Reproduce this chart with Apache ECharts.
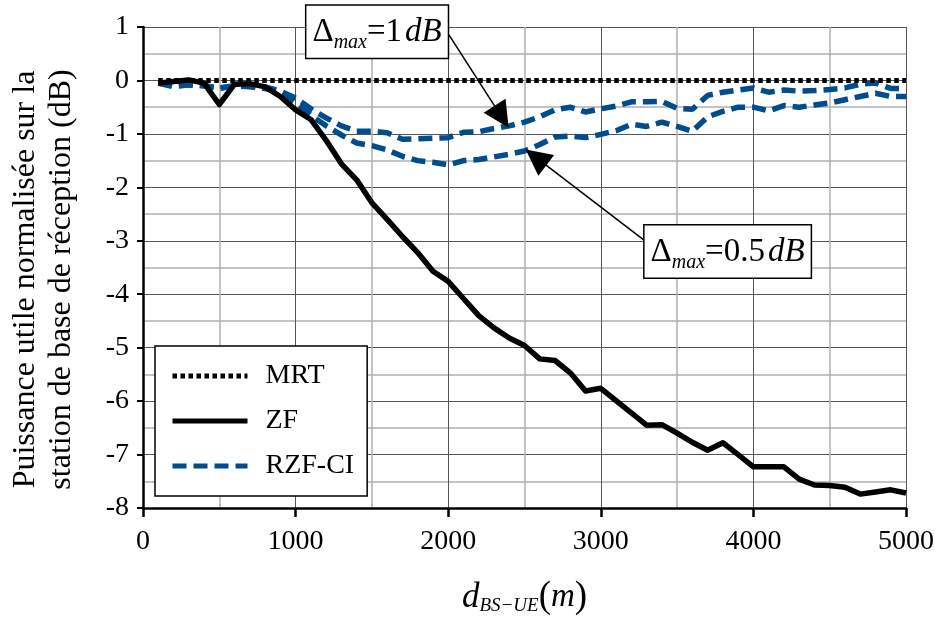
<!DOCTYPE html>
<html>
<head>
<meta charset="utf-8">
<script src="https://cdn.jsdelivr.net/npm/echarts@6/dist/echarts.min.js"></script>
<style>
html,body{margin:0;padding:0;background:#fff;}
#chart{width:937px;height:623px;}
</style>
</head>
<body>
<div id="chart"></div>
<script>
// distance BS-UE (m)
const distances = [100,200,300,400,500,600,700,800,900,1000,
  1100,1200,1300,1400,1500,1600,1700,1800,1900,2000,
  2100,2200,2300,2400,2500,2600,2700,2800,2900,3000,
  3100,3200,3300,3400,3500,3600,3700,3800,3900,4000,
  4100,4200,4300,4400,4500,4600,4700,4800,4900,5000];

const mrt = [0,0,0,0,0,0,0,0,0,0, 0,0,0,0,0,0,0,0,0,0,
  0,0,0,0,0,0,0,0,0,0, 0,0,0,0,0,0,0,0,0,0, 0,0,0,0,0,0,0,0,0,0];

const zf = [-0.05,-0.02,0.01,-0.05,-0.45,-0.07,-0.06,-0.12,-0.30,-0.55,
  -0.73,-1.12,-1.56,-1.86,-2.29,-2.60,-2.92,-3.22,-3.57,-3.76,
  -4.08,-4.40,-4.63,-4.82,-4.96,-5.21,-5.24,-5.47,-5.81,-5.76,
  -5.99,-6.22,-6.45,-6.44,-6.60,-6.77,-6.92,-6.78,-7.00,-7.23,
  -7.23,-7.23,-7.46,-7.57,-7.58,-7.61,-7.74,-7.70,-7.66,-7.72];

// RZF-CI, Delta_max = 1 dB
const rzf1dB = [-0.05,-0.10,-0.08,-0.10,-0.14,-0.10,-0.10,-0.12,-0.20,-0.33,
  -0.53,-0.70,-0.85,-0.95,-0.95,-0.98,-1.10,-1.09,-1.08,-1.07,
  -0.97,-0.96,-0.90,-0.85,-0.78,-0.68,-0.55,-0.50,-0.59,-0.53,
  -0.48,-0.40,-0.40,-0.39,-0.52,-0.54,-0.28,-0.22,-0.18,-0.14,
  -0.22,-0.18,-0.20,-0.19,-0.17,-0.14,-0.07,-0.05,-0.15,-0.15];

// RZF-CI, Delta_max = 0.5 dB
const rzf05dB = [-0.05,-0.12,-0.08,-0.10,-0.15,-0.10,-0.12,-0.15,-0.22,-0.42,
  -0.65,-0.85,-1.02,-1.17,-1.22,-1.30,-1.42,-1.50,-1.53,-1.58,
  -1.50,-1.48,-1.43,-1.38,-1.32,-1.20,-1.06,-1.04,-1.07,-1.01,
  -0.94,-0.82,-0.86,-0.78,-0.86,-0.95,-0.68,-0.58,-0.50,-0.50,
  -0.57,-0.47,-0.50,-0.46,-0.42,-0.36,-0.30,-0.24,-0.30,-0.30];

const xTicks = [0,1000,2000,3000,4000,5000];
const yTicks = [1,0,-1,-2,-3,-4,-5,-6,-7,-8];

// annotation anchors (data units)
const box1At = [1534, 0.91];
const box2At = [3831, -3.20];
const arrow1 = [[2005, 0.854],[2350, -0.68]];
const arrow2 = [[3279, -2.98],[2575, -1.44]];

const FONT = 'Liberation Serif';
const BLUE = '#004C8C';

const pairs = ys => distances.map((d,i)=>[d, ys[i]]);

const boxRich = {
  D:{fontFamily:FONT,fontSize:33,color:'#000'},
  s:{fontFamily:FONT,fontSize:20,fontStyle:'italic',color:'#000',padding:[20,0,0,0]},
  n:{fontFamily:FONT,fontSize:33,color:'#000'},
  g:{fontFamily:FONT,fontSize:12,color:'#000'},
  i:{fontFamily:FONT,fontSize:33,fontStyle:'italic',color:'#000'}
};
function boxLabel(val){
  return {
    show:true, position:'inside',
    formatter:'{D|Δ}{s|max}{n|=' + val + '}{g| }{i|dB}',
    backgroundColor:'#fff', borderColor:'#000', borderWidth:1.5,
    padding:[7,6,5,6], rich:boxRich
  };
}

const chart = echarts.init(document.getElementById('chart'), null, {renderer:'canvas'});
chart.setOption({
  animation:false,
  backgroundColor:'#fff',
  textStyle:{fontFamily:FONT},
  grid:{left:143, top:27, width:765, height:481, containLabel:false},
  xAxis:{
    type:'value', min:0, max:5000, interval:1000,
    axisLine:{show:true, onZero:false, lineStyle:{color:'#000', width:2.5}},
    axisTick:{show:true, length:9, lineStyle:{color:'#000', width:2.5}},
    axisLabel:{fontFamily:FONT, fontSize:28, color:'#000', margin:20,
      formatter:v=> xTicks.includes(v) ? String(v) : ''},
    splitLine:{show:true, lineStyle:{color:'#555', width:1}},
    minorTick:{show:false, splitNumber:2},
    minorSplitLine:{show:true, lineStyle:{color:'#b0b0b0', width:1.5}},
    name:'{d|d}{sub|BS−UE}{p|(}{m|m}{p|)}',
    nameLocation:'middle', nameGap:71,
    nameTextStyle:{rich:{
      d:{fontFamily:FONT,fontSize:35,fontStyle:'italic',color:'#000'},
      sub:{fontFamily:FONT,fontSize:19,fontStyle:'italic',color:'#000',padding:[16,0,0,0]},
      p:{fontFamily:FONT,fontSize:37,color:'#000'},
      m:{fontFamily:FONT,fontSize:33,fontStyle:'italic',color:'#000'}
    }}
  },
  yAxis:{
    type:'value', min:-8, max:1, interval:1,
    axisLine:{show:true, onZero:false, lineStyle:{color:'#000', width:2.5}},
    axisTick:{show:true, length:6, lineStyle:{color:'#000', width:2}},
    axisLabel:{fontFamily:FONT, fontSize:28, color:'#000', margin:14,
      formatter:v=> yTicks.includes(v) ? String(v) : ''},
    splitLine:{show:true, lineStyle:{color:'#555', width:1}},
    minorTick:{show:false, splitNumber:2},
    minorSplitLine:{show:true, lineStyle:{color:'#b0b0b0', width:1.5}},
    name:'Puissance utile normalisée sur la\nstation de base de réception (dB)',
    nameLocation:'middle', nameRotate:90, nameGap:63,
    nameTextStyle:{fontFamily:FONT, fontSize:32, color:'#000', lineHeight:36, padding:[0,24,0,0]}
  },
  legend:{
    left:155, top:346, orient:'vertical',
    data:['MRT','ZF','RZF-CI'],
    itemWidth:75, itemHeight:14, itemGap:15,
    padding:[15,13,15,15],
    backgroundColor:'#fff', borderColor:'#000', borderWidth:1.5,
    itemStyle:{opacity:0},
    lineStyle:{width:5},
    textStyle:{fontFamily:FONT, fontSize:28, color:'#000', lineHeight:30, padding:[0,0,0,13]},
    selectedMode:false
  },
  series:[
    {name:'MRT', type:'line', symbol:'none', data:pairs(mrt), z:5,
     lineStyle:{color:'#000', width:5, type:[4.5,3.5], cap:'butt'}, itemStyle:{color:'#000'}},
    {name:'RZF-CI', type:'line', symbol:'none', data:pairs(rzf1dB), z:3,
     lineStyle:{color:BLUE, width:5.5, type:[14,7], cap:'butt'}, itemStyle:{color:BLUE}},
    {name:'RZF-CI', type:'line', symbol:'none', data:pairs(rzf05dB), z:3,
     lineStyle:{color:BLUE, width:5.5, type:[14,7], cap:'butt'}, itemStyle:{color:BLUE}},
    {name:'ZF', type:'line', symbol:'none', data:pairs(zf), z:4,
     lineStyle:{color:'#000', width:5.5, join:'round'}, itemStyle:{color:'#000'},
     markLine:{
       silent:true, symbol:['none','triangle'], symbolSize:26,
       lineStyle:{color:'#000', width:1.5, type:'solid'},
       itemStyle:{color:'#000'},
       label:{show:false}, emphasis:{disabled:true},
       data:[
         [{coord:arrow1[0]},{coord:arrow1[1]}],
         [{coord:arrow2[0]},{coord:arrow2[1]}]
       ]
     },
     markPoint:{
       silent:true, symbol:'circle', symbolSize:1,
       itemStyle:{color:'rgba(0,0,0,0)'},
       emphasis:{disabled:true},
       data:[
         {coord:box1At, label:boxLabel('1')},
         {coord:box2At, label:boxLabel('0.5')}
       ]
     }
    }
  ]
});
</script>
</body>
</html>
